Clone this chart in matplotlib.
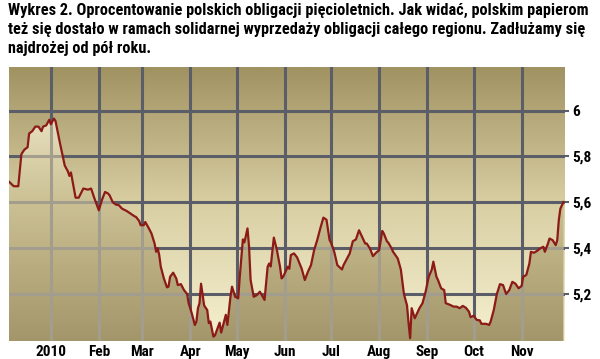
import matplotlib

matplotlib.use("Agg")
import matplotlib.pyplot as plt  # noqa: E402
import numpy as np  # noqa: E402
import pandas as pd  # noqa: E402
from matplotlib import font_manager  # noqa: E402
from matplotlib.colors import LinearSegmentedColormap  # noqa: E402

# the original uses a bold condensed face; take the narrowest one we have
installed = {f.name for f in font_manager.fontManager.ttflist}
for fam in ["Liberation Sans Narrow", "DejaVu Sans Condensed", "Roboto Condensed",
            "Open Sans Condensed", "Roboto", "Lato", "DejaVu Sans"]:
    if fam in installed:
        break
plt.rcParams["font.family"] = [fam, "DejaVu Sans"]

TITLE = ("Wykres 2. Oprocentowanie polskich obligacji pięcioletnich. Jak widać, polskim papierom\n"
         "też się dostało w ramach solidarnej wyprzedaży obligacji całego regionu. Zadłużamy się\n"
         "najdrożej od pół roku.")

# days counted from 2010-01-01, yield of the 5y bond (%)
days = [-27, -24, -21, -19, -17, -15, -14, -12, -11, -10, -8, -6, -5, -3, -1, 0, 2, 3, 6, 9,
        11, 12, 13, 16, 18, 21, 24, 26, 28, 31, 33, 35, 37, 38, 40, 42, 44, 46, 48, 49,
        52, 54, 55, 57, 58, 60, 61, 63, 65, 67, 68, 69, 70, 71, 73, 75, 76, 77, 79, 81,
        82, 84, 86, 88, 89, 91, 93, 94, 95, 96, 97, 99, 101, 102, 103, 105, 106, 109, 110, 113,
        114, 116, 117, 119, 121, 122, 124, 125, 127, 128, 129, 131, 133, 135, 138, 140, 141, 142, 144, 146,
        148, 149, 150, 153, 154, 155, 157, 159, 161, 162, 164, 166, 168, 170, 172, 174, 176, 178, 180, 181,
        183, 185, 188, 189, 191, 193, 195, 197, 199, 201, 203, 204, 206, 208, 210, 212, 214, 215, 217, 218,
        220, 221, 224, 226, 228, 230, 231, 232, 233, 235, 238, 240, 242, 244, 246, 247, 249, 250, 252, 254,
        255, 258, 260, 262, 264, 266, 268, 270, 271, 273, 275, 277, 278, 281, 283, 284, 286, 288, 290, 292,
        294, 296, 298, 300, 302, 304, 305, 307, 309, 310, 312, 314, 316, 318, 319, 321, 322, 324, 326, 327,
        328, 329, 331]
yields = [5.69, 5.67, 5.67, 5.81, 5.83, 5.84, 5.90, 5.91, 5.92, 5.93, 5.93, 5.91, 5.93, 5.935, 5.96, 5.94, 5.965, 5.955, 5.855, 5.76,
          5.735, 5.715, 5.73, 5.62, 5.62, 5.66, 5.655, 5.66, 5.62, 5.565, 5.61, 5.645, 5.638, 5.63, 5.60, 5.59, 5.587, 5.572, 5.565, 5.562,
          5.548, 5.539, 5.536, 5.519, 5.50, 5.50, 5.514, 5.49, 5.464, 5.42, 5.384, 5.399, 5.37, 5.319, 5.268, 5.229, 5.232, 5.275, 5.293, 5.268,
          5.239, 5.243, 5.217, 5.20, 5.16, 5.116, 5.065, 5.08, 5.138, 5.16, 5.245, 5.15, 5.13, 5.073, 5.08, 5.014, 5.02, 5.075, 5.032, 5.109,
          5.065, 5.188, 5.232, 5.188, 5.181, 5.275, 5.438, 5.425, 5.486, 5.406, 5.261, 5.188, 5.195, 5.21, 5.174, 5.319, 5.333, 5.32, 5.446, 5.391,
          5.319, 5.268, 5.275, 5.319, 5.31, 5.37, 5.377, 5.36, 5.326, 5.31, 5.261, 5.297, 5.326, 5.391, 5.435, 5.486, 5.533, 5.524, 5.435, 5.423,
          5.384, 5.326, 5.307, 5.326, 5.351, 5.377, 5.43, 5.438, 5.478, 5.449, 5.42, 5.42, 5.399, 5.365, 5.38, 5.391, 5.475, 5.464, 5.43, 5.423,
          5.399, 5.384, 5.355, 5.307, 5.20, 5.15, 5.073, 5.007, 5.138, 5.094, 5.138, 5.16, 5.21, 5.275, 5.307, 5.341, 5.275, 5.261, 5.225, 5.217,
          5.16, 5.152, 5.145, 5.145, 5.138, 5.148, 5.14, 5.123, 5.099, 5.105, 5.087, 5.085, 5.07, 5.07, 5.065, 5.08, 5.13, 5.20, 5.243, 5.239,
          5.20, 5.217, 5.253, 5.245, 5.225, 5.235, 5.275, 5.283, 5.333, 5.384, 5.38, 5.388, 5.399, 5.406, 5.384, 5.42, 5.442, 5.435, 5.413, 5.435,
          5.522, 5.572, 5.601]

month_labels = ["2010", "Feb", "Mar", "Apr", "May", "Jun", "Jul", "Aug", "Sep", "Oct", "Nov"]
y_ticks = [5.2, 5.4, 5.6, 5.8, 6.0]
y_labels = ["5,2", "5,4", "5,6", "5,8", "6"]

x = np.array(days, dtype=float)
y = np.array(yields)
month_starts = (pd.date_range("2010-01-01", "2010-11-01", freq="MS") - pd.Timestamp("2010-01-01")).days

XMIN, XMAX = -27.0, 332.0
YMIN, YMAX = 4.995, 6.19
extent = [XMIN, XMAX, YMIN, YMAX]

fig = plt.figure(figsize=(6.0, 3.59), dpi=100)
ax = fig.add_axes([9 / 600, 18 / 359, 556 / 600, 274 / 359])
ax.set_xlim(XMIN, XMAX)
ax.set_ylim(YMIN, YMAX)

grad = np.linspace(0, 1, 256).reshape(-1, 1)
bg_cmap = LinearSegmentedColormap.from_list("bg", ["#f5f0d0", "#d9cfa3", "#a19262"])
fill_cmap = LinearSegmentedColormap.from_list("fl", ["#a3966a", "#cbc093", "#f7f2d8"])
ax.imshow(grad, extent=extent, origin="lower", aspect="auto", cmap=bg_cmap, zorder=0)

grid_dark = "#5b5d68"
for m in month_starts:
    ax.axvline(m, color=grid_dark, lw=2.2, zorder=1)
for t in y_ticks:
    ax.axhline(t, color=grid_dark, lw=2.2, zorder=1)

poly = ax.fill_between(x, y, YMIN, facecolor="none", edgecolor="none")
clip = poly.get_paths()[0]
im = ax.imshow(grad, extent=extent, origin="lower", aspect="auto", cmap=fill_cmap, zorder=2)
im.set_clip_path(clip, transform=ax.transData)

# gridlines seen through the filled area are lighter
for m in month_starts:
    ln = ax.axvline(m, color="#a29d8c", lw=2.2, zorder=3)
    ln.set_clip_path(clip, transform=ax.transData)
for t in y_ticks:
    ln = ax.axhline(t, color="#a29d8c", lw=2.2, zorder=3)
    ln.set_clip_path(clip, transform=ax.transData)

ax.plot(x, y, color="#8c1a16", lw=1.6, zorder=4, solid_joinstyle="round")

for s in ax.spines.values():
    s.set_visible(False)
ax.set_xticks(month_starts)
ax.set_xticklabels(month_labels)
ax.tick_params(axis="x", length=0, pad=3, labelsize=11)
ax.yaxis.tick_right()
ax.set_yticks(y_ticks)
ax.set_yticklabels(y_labels)
ax.tick_params(axis="y", length=3, width=1.5, color=grid_dark, pad=2, labelsize=11)
for lbl in ax.get_xticklabels() + ax.get_yticklabels():
    lbl.set_fontweight("bold")

fs = 10.5
title = fig.text(8 / 600, 1 - 3 / 359, TITLE, ha="left", va="top", fontsize=fs,
                 fontweight="bold", linespacing=1.35)
# scale the title so its longest line spans about 580 px like the original,
# with roughly 20 px between baselines
fig.canvas.draw()
w = title.get_window_extent().width
k = 580 / w
title.set_fontsize(fs * k)
title.set_linespacing(1.5 / k)

fig.savefig("out.png", dpi=100)
